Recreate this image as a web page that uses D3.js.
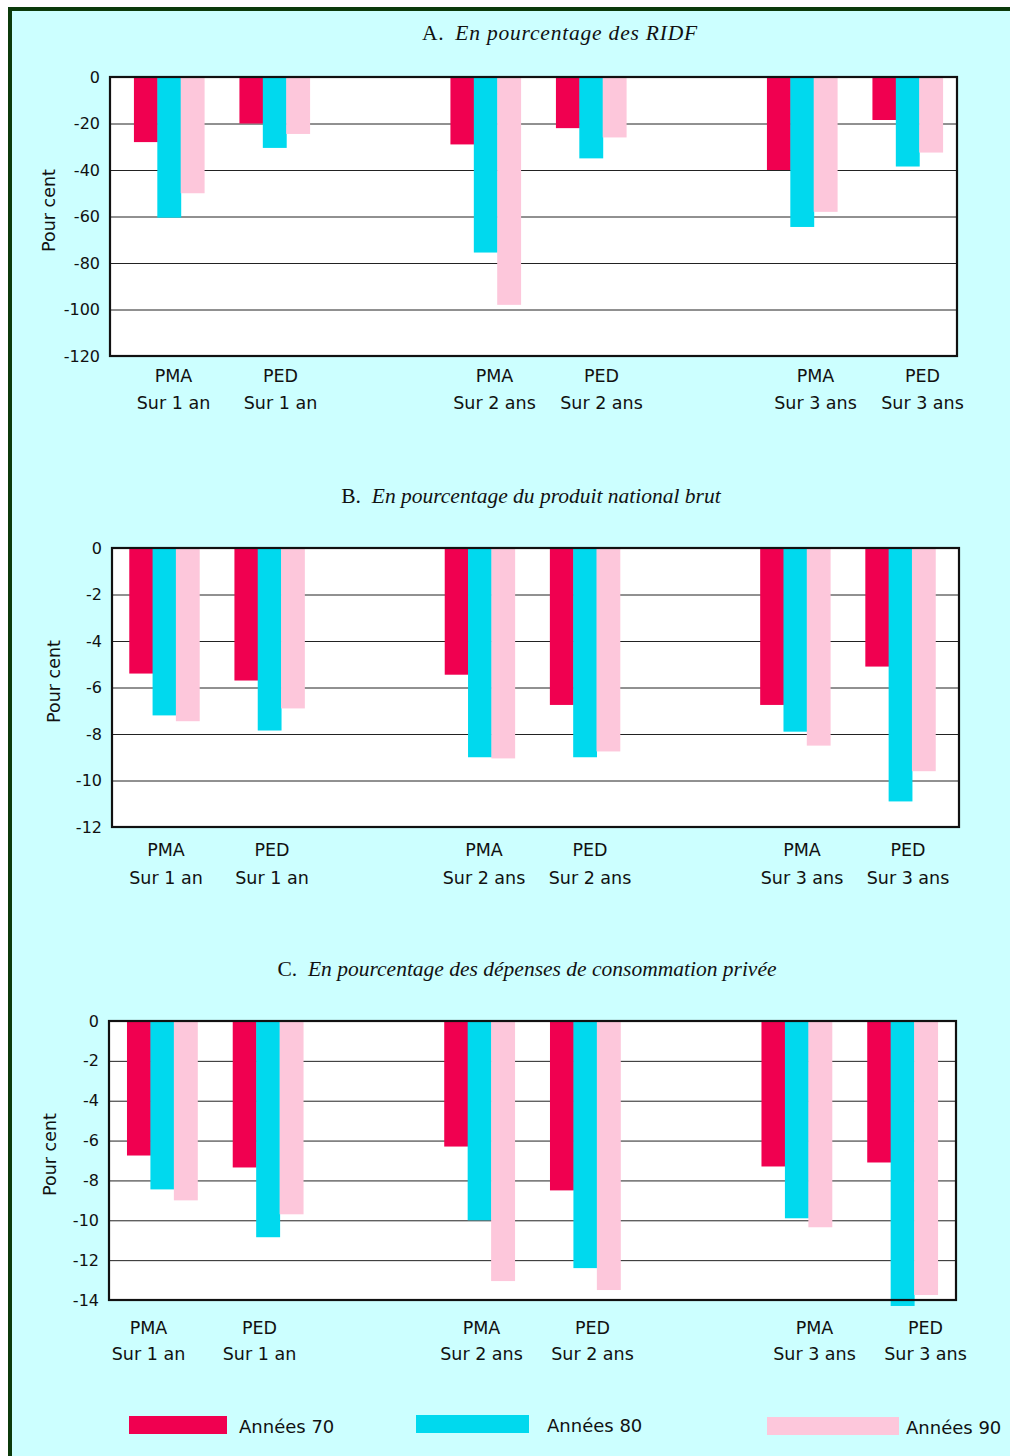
<!DOCTYPE html>
<html><head><meta charset="utf-8">
<script src="https://cdn.jsdelivr.net/npm/d3@7"></script>
<style>html,body{margin:0;padding:0;background:#fff;} svg{display:block;}</style>
</head><body>
<script>
// ---------- DATA ----------
const groups  = ["PMA", "PED", "PMA", "PED", "PMA", "PED"];
const periods = ["Sur 1 an", "Sur 1 an", "Sur 2 ans", "Sur 2 ans", "Sur 3 ans", "Sur 3 ans"];
const series  = ["Années 70", "Années 80", "Années 90"];

// A. En pourcentage des RIDF
const ridf70 = [-28, -20, -29, -22, -40, -18.5];
const ridf80 = [-60.5, -30.5, -75.5, -35, -64.5, -38.5];
const ridf90 = [-50, -24.5, -98, -26, -58, -32.5];
const ticksA = [0, -20, -40, -60, -80, -100, -120];

// B. En pourcentage du produit national brut
const pnb70 = [-5.4, -5.7, -5.45, -6.75, -6.75, -5.1];
const pnb80 = [-7.2, -7.85, -9.0, -9.0, -7.9, -10.9];
const pnb90 = [-7.45, -6.9, -9.05, -8.75, -8.5, -9.6];
const ticksB = [0, -2, -4, -6, -8, -10, -12];

// C. En pourcentage des dépenses de consommation privée
const conso70 = [-6.75, -7.35, -6.3, -8.5, -7.3, -7.1];
const conso80 = [-8.45, -10.85, -10.0, -12.4, -9.9, -14.3];
const conso90 = [-9.0, -9.7, -13.05, -13.5, -10.35, -13.75];
const ticksC = [0, -2, -4, -6, -8, -10, -12, -14];

const titles = [
  ["A.", "En pourcentage des RIDF"],
  ["B.", "En pourcentage du produit national brut"],
  ["C.", "En pourcentage des dépenses de consommation privée"]
];
const yTitle = "Pour cent";

// ---------- STYLE / LAYOUT ----------
const colors = ["#f00050", "#00d9ee", "#fdc7db"];
const W = 1010, H = 1456;
const slotOf = [0, 1, 3, 4, 6, 7];   // two empty slots separate the pairs
const sans = "'DejaVu Sans', Verdana, sans-serif";
const serif = "'Liberation Serif', 'Times New Roman', serif";

const panels = [
  { title: titles[0], values: [ridf70, ridf80, ridf90], ticks: ticksA,
    left: 110, right: 957, top: 77, bottom: 356,
    barRange: [116, 960], labelRange: [120, 976], lab1: 375.5, lab2: 402.5,
    titleX: 560, titleY: 40, titleSpacing: 0.8, yLabX: 49 },
  { title: titles[1], values: [pnb70, pnb80, pnb90], ticks: ticksB,
    left: 112, right: 959, top: 548, bottom: 827,
    barRange: [111.4, 952.6], labelRange: [113, 961], lab1: 850, lab2: 877.5,
    titleX: 531, titleY: 503, titleSpacing: 0, yLabX: 54 },
  { title: titles[2], values: [conso70, conso80, conso90], ticks: ticksC,
    left: 109, right: 956, top: 1021, bottom: 1300,
    barRange: [109, 955], labelRange: [93, 981], lab1: 1327.5, lab2: 1354,
    titleX: 527, titleY: 976, titleSpacing: 0, yLabX: 50 }
];

const legendLayout = [
  { x: 129, y: 1416, w: 98, h: 18, tx: 239 },
  { x: 416, y: 1415, w: 113, h: 18, tx: 547 },
  { x: 767, y: 1417, w: 132, h: 18, tx: 906 }
];

// ---------- DRAW ----------
const svg = d3.select("body").append("svg").attr("width", W).attr("height", H);
svg.append("rect").attr("width", W).attr("height", H).attr("fill", "#fff");
svg.append("rect").attr("x", 10).attr("y", 9).attr("width", W + 20).attr("height", H + 20)
  .attr("fill", "#ccffff").attr("stroke", "#0b3a0b").attr("stroke-width", 4);

panels.forEach(p => {
  const g = svg.append("g");
  const minV = p.ticks[p.ticks.length - 1];
  const y = d3.scaleLinear().domain([0, minV]).range([p.top, p.bottom]);
  const xBar = d3.scaleBand().domain(d3.range(8)).range(p.barRange);
  const bw = xBar.bandwidth();
  const xSer = d3.scaleBand().domain(series).range([bw * 0.17, bw * 0.835]);
  const xLab = d3.scaleBand().domain(d3.range(8)).range(p.labelRange);

  // title
  const t = g.append("text").attr("x", p.titleX).attr("y", p.titleY)
    .attr("text-anchor", "middle").attr("font-family", serif).attr("font-size", 21.5)
    .attr("letter-spacing", p.titleSpacing).attr("fill", "#111");
  t.append("tspan").text(p.title[0]);
  t.append("tspan").attr("dx", "0.5em").attr("font-style", "italic").text(p.title[1]);

  // plot background
  g.append("rect").attr("x", p.left).attr("y", p.top)
    .attr("width", p.right - p.left).attr("height", p.bottom - p.top).attr("fill", "#fff");

  // axis + gridlines
  const ax = g.append("g").attr("transform", `translate(${p.left},0)`)
    .call(d3.axisLeft(y).tickValues(p.ticks).tickSize(-(p.right - p.left))
      .tickPadding(10).tickFormat(d => String(d)));
  ax.select(".domain").remove();
  ax.selectAll(".tick line").attr("stroke", "#222").attr("stroke-width", 1);
  ax.selectAll(".tick text").attr("font-family", sans).attr("font-size", 16)
    .attr("fill", "#111");

  // bars
  series.forEach((s, si) => {
    g.append("g").selectAll("rect").data(p.values[si]).join("rect")
      .attr("x", (d, i) => xBar(slotOf[i]) + xSer(s))
      .attr("width", xSer.bandwidth() + 0.5)
      .attr("y", y(0))
      .attr("height", d => y(d) - y(0))
      .attr("fill", colors[si]);
  });

  // frame
  g.append("rect").attr("x", p.left).attr("y", p.top)
    .attr("width", p.right - p.left).attr("height", p.bottom - p.top)
    .attr("fill", "none").attr("stroke", "#111").attr("stroke-width", 2.2);

  // category labels
  const lab = g.append("g").attr("font-family", sans).attr("font-size", 17.5)
    .attr("fill", "#111").attr("text-anchor", "middle").attr("dominant-baseline", "central");
  lab.selectAll("text.l1").data(groups).join("text").attr("class", "l1")
    .attr("x", (d, i) => xLab(slotOf[i]) + xLab.bandwidth() / 2).attr("y", p.lab1).text(d => d);
  lab.selectAll("text.l2").data(periods).join("text").attr("class", "l2")
    .attr("x", (d, i) => xLab(slotOf[i]) + xLab.bandwidth() / 2).attr("y", p.lab2).text(d => d);

  // y title
  const cy = (p.top + p.bottom) / 2 - 6;
  g.append("text").attr("transform", `translate(${p.yLabX},${cy}) rotate(-90)`)
    .attr("text-anchor", "middle").attr("dominant-baseline", "central")
    .attr("font-family", sans).attr("font-size", 17.5).attr("fill", "#111").text(yTitle);
});

// legend
const leg = svg.append("g");
series.forEach((s, i) => {
  const L = legendLayout[i];
  leg.append("rect").attr("x", L.x).attr("y", L.y).attr("width", L.w).attr("height", L.h)
    .attr("fill", colors[i]);
  leg.append("text").attr("x", L.tx).attr("y", L.y + L.h / 2 + 1)
    .attr("dominant-baseline", "central").attr("font-family", sans).attr("font-size", 18)
    .attr("fill", "#111").text(s);
});
</script>
</body></html>
